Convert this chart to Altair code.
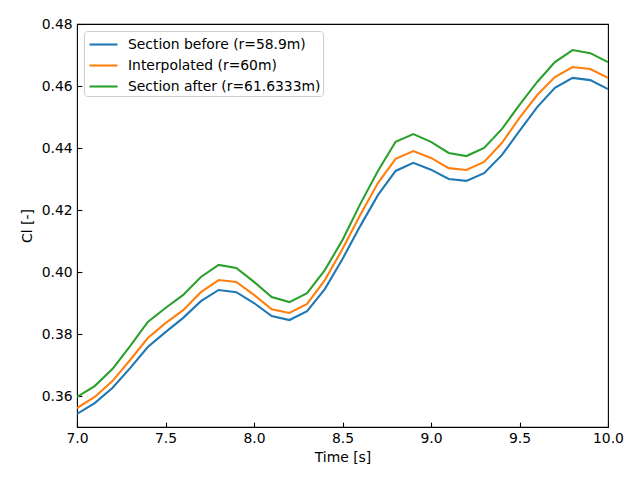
import altair as alt
import pandas as pd

time = [7.0, 7.1, 7.2, 7.3, 7.4, 7.5, 7.6, 7.7, 7.8, 7.9,
        8.0, 8.1, 8.2, 8.3, 8.4, 8.5, 8.6, 8.7, 8.8, 8.9,
        9.0, 9.1, 9.2, 9.3, 9.4, 9.5, 9.6, 9.7, 9.8, 9.9, 10.0]

section_before = [0.3542, 0.3577, 0.3626, 0.3690, 0.3758, 0.3806, 0.3852, 0.3906, 0.3942, 0.3935,
                  0.3900, 0.3858, 0.3845, 0.3874, 0.3945, 0.4042, 0.4148, 0.4248, 0.4326, 0.4352,
                  0.4330, 0.4300, 0.4294, 0.4319, 0.4377, 0.4455, 0.4532, 0.4594, 0.4626, 0.4619, 0.4590]

interpolated = [0.3561, 0.3597, 0.3648, 0.3716, 0.3787, 0.3835, 0.3877, 0.3935, 0.3974, 0.3968,
                0.3926, 0.3880, 0.3868, 0.3897, 0.3974, 0.4074, 0.4184, 0.4287, 0.4365, 0.4390,
                0.4368, 0.4335, 0.4329, 0.4355, 0.4416, 0.4497, 0.4571, 0.4629, 0.4661, 0.4655, 0.4626]

section_after = [0.3597, 0.3632, 0.3687, 0.3761, 0.3839, 0.3884, 0.3926, 0.3984, 0.4023, 0.4013,
                 0.3968, 0.3919, 0.3903, 0.3932, 0.4006, 0.4103, 0.4219, 0.4326, 0.4420, 0.4445,
                 0.4420, 0.4384, 0.4374, 0.4400, 0.4461, 0.4539, 0.4613, 0.4677, 0.4716, 0.4706, 0.4677]

series_names = ["Section before (r=58.9m)", "Interpolated (r=60m)", "Section after (r=61.6333m)"]
series_colors = ["#1f77b4", "#ff7f0e", "#2ca02c"]

x_ticks = [7.0, 7.5, 8.0, 8.5, 9.0, 9.5, 10.0]
y_ticks = [0.36, 0.38, 0.40, 0.42, 0.44, 0.46, 0.48]

rows = []
for name, vals in zip(series_names, [section_before, interpolated, section_after]):
    for t, v in zip(time, vals):
        rows.append({"t": t, "cl": v, "series": name})
df = pd.DataFrame(rows)

TICK = 4.86
FONT = "DejaVu Sans"
FS = 13.9

chart = alt.Chart(df).mark_line(strokeWidth=2.08, clip=True).encode(
    x=alt.X("t:Q",
            scale=alt.Scale(domain=[7.0, 10.0], nice=False, zero=False),
            axis=alt.Axis(title="Time [s]", values=x_ticks, format=".1f",
                          offset=-TICK, tickSize=TICK, labelPadding=TICK,
                          labelFlush=False, labelOverlap=False,
                          titlePadding=5, grid=False, domain=False)),
    y=alt.Y("cl:Q",
            scale=alt.Scale(domain=[0.35, 0.48], nice=False, zero=False),
            axis=alt.Axis(title="Cl [-]", values=y_ticks, format=".2f",
                          offset=-TICK, tickSize=TICK, labelPadding=TICK,
                          labelFlush=False, labelOverlap=False,
                          titlePadding=7, grid=False, domain=False)),
    color=alt.Color("series:N",
                    scale=alt.Scale(domain=series_names, range=series_colors),
                    sort=series_names,
                    legend=alt.Legend(title=None, orient="top-left", offset=7,
                                      symbolType="M-1.4,0L1.4,0", symbolSize=400,
                                      symbolStrokeWidth=2.08, symbolOffset=6,
                                      labelOffset=13, labelLimit=400,
                                      padding=2, rowPadding=2,
                                      strokeColor="#cccccc", fillColor="white",
                                      cornerRadius=3)),
).properties(
    width=531,
    height=403,
    autosize=alt.AutoSizeParams(type="none"),
    padding={"left": 69, "top": 16, "right": 24, "bottom": 45},
    background="white",
).configure_view(
    stroke="black", strokeWidth=1.1
).configure_axis(
    labelFont=FONT, titleFont=FONT, labelFontSize=FS, titleFontSize=FS,
    labelColor="black", titleColor="black", tickColor="black", tickWidth=1.1,
    titleFontWeight="normal"
).configure_legend(
    labelFont=FONT, labelFontSize=FS, labelColor="black"
)

chart.save("out.html", embed_options={"renderer": "svg", "actions": False})
